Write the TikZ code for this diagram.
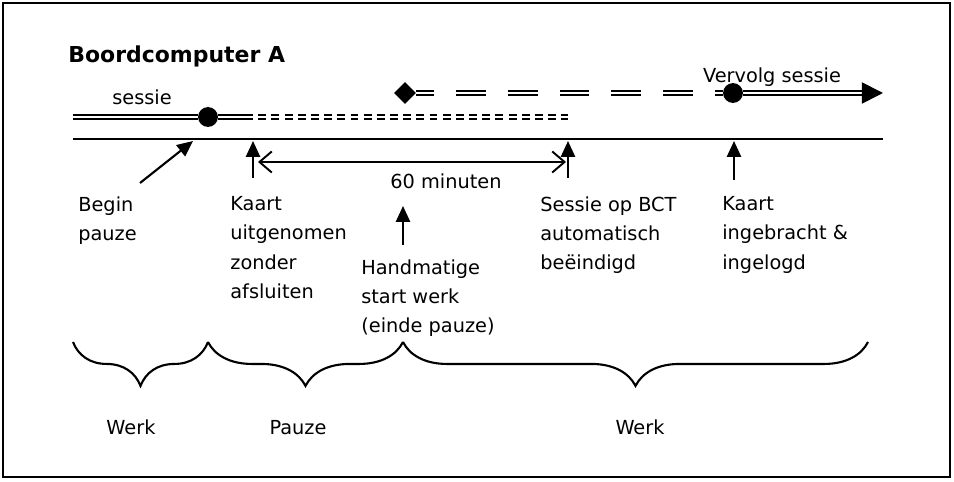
\documentclass[tikz,border=0pt]{standalone}
\usepackage{fontspec}
\setmainfont{DejaVu Sans}
\usepackage{tikz}
\usetikzlibrary{arrows.meta}
\usetikzlibrary{positioning,decorations.pathreplacing}
\usetikzlibrary{shapes.geometric}
\tikzset{
    txt/.style={
        font=\fontsize{11pt}{16.7pt}\selectfont,
        inner sep=0pt,
        align=left
    },
    pointer/.style={
        -{Triangle[length=9pt, width=8pt]},
        line width=1.2pt
    }
}

\begin{document}
\begin{tikzpicture}[
      x = 0.02cm, y = -0.02cm,
      session/.style = {double, double distance=1.4pt, line width=1pt},
      dot node/.style = {circle, fill, inner sep=0pt, minimum size=11.3pt},
      span brace/.style = {decorate, decoration={brace, mirror, amplitude=25pt}, line width=1.2pt}
  ]
  \useasboundingbox (0,0) rectangle (954,482);
  % Frame
  \draw[line width=1.2pt] (3,3) rectangle (950,477);

  % Title
  \node[anchor=base west, inner sep=0pt, font=\fontsize{12.5pt}{15pt}\selectfont\bfseries] (title) at (68,63) {Boordcomputer A};

  % Define the time axis
  \coordinate (axisL) at (73,139);
  \coordinate (axisR) at (883,139);
  \draw[line width=1.2pt] (axisL) -- (axisR);

  % Session on BCT A
  \coordinate (sesL) at (73,117);
  \coordinate (sesCut) at (253,117);
  \coordinate (sesEnd) at (568,117);
  \node[dot node] (pause) at (208,117) {};
  \draw[session] (sesL) -- (pause) -- (sesCut);
  \draw[session, dash pattern=on 4.5pt off 3pt, dash phase=4.5pt] (sesCut) -- (sesEnd);
  \node[txt, anchor=base] (sessie) at (142,105) {sessie};

  % Continued session
  \node[diamond, fill, inner sep=0pt, minimum size=12.5pt] (resume) at (405,93) {};
  \node[dot node] (login) at (733,93) {};
  \coordinate (contEnd) at (883,93);
  \draw[session, dash pattern=on 17pt off 12.5pt, dash phase=7pt] (resume) -- (login);
  \draw[session, -{Triangle[length=12pt, width=12pt]}] (login) -- (contEnd);
  \node[txt, anchor=base] (vervolg) at (772,83) {Vervolg sessie};

  % Events below the axis
  \node[txt, anchor=north west] (begin) at (78,196) {Begin\\pauze};
  \node[txt, anchor=north west] (uitgenomen) at (230,196) {Kaart\\uitgenomen\\zonder\\afsluiten};
  \node[txt, anchor=north west] (handmatig) at (361,259) {Handmatige\\start werk\\(einde pauze)};
  \node[txt, anchor=north west] (automatisch) at (540,196) {Sessie op BCT\\automatisch\\beëindigd};
  \node[txt, anchor=north west] (ingebracht) at (722,196) {Kaart\\ingebracht \&\\ingelogd};

  % Pointers to the axis
  \coordinate (beginTail) at (140,183);
  \coordinate (beginTip) at (193,141);
  \coordinate (kaartTail) at (253,178);
  \coordinate (kaartTip) at (253,141);
  \coordinate (bctTail) at (568,178);
  \coordinate (bctTip) at (568,141);
  \coordinate (inTail) at (734,180);
  \coordinate (inTip) at (734,141);
  \coordinate (handTail) at (403,245);
  \coordinate (handTip) at (403,206);
  \draw[pointer] (beginTail) -- (beginTip);
  \draw[pointer] (kaartTail) -- (kaartTip);
  \draw[pointer] (bctTail) -- (bctTip);
  \draw[pointer] (inTail) -- (inTip);
  \draw[pointer] (handTail) -- (handTip);

  % 60 minutes
  \coordinate (minL) at (258,162);
  \coordinate (minR) at (566,162);
  \draw[{Straight Barb[length=7pt, width=12pt]}-{Straight Barb[length=7pt, width=12pt]}, line width=1.1pt] (minL) -- (minR);
  \node[txt, anchor=base] (sixty) at (446,189) {60 minuten};

  % Braces
  \coordinate (b0) at (73,342);
  \coordinate (b1) at (208,342);
  \coordinate (b2) at (403,342);
  \coordinate (b3) at (868,342);
  \draw[span brace] (b0) -- (b1);
  \draw[span brace] (b1) -- (b2);
  \draw[span brace] (b2) -- (b3);
  \node[txt, anchor=base] (werk1) at (131,435) {Werk};
  \node[txt, anchor=base] (pauze) at (298,435) {Pauze};
  \node[txt, anchor=base] (werk2) at (640,435) {Werk};
\end{tikzpicture}
\end{document}
